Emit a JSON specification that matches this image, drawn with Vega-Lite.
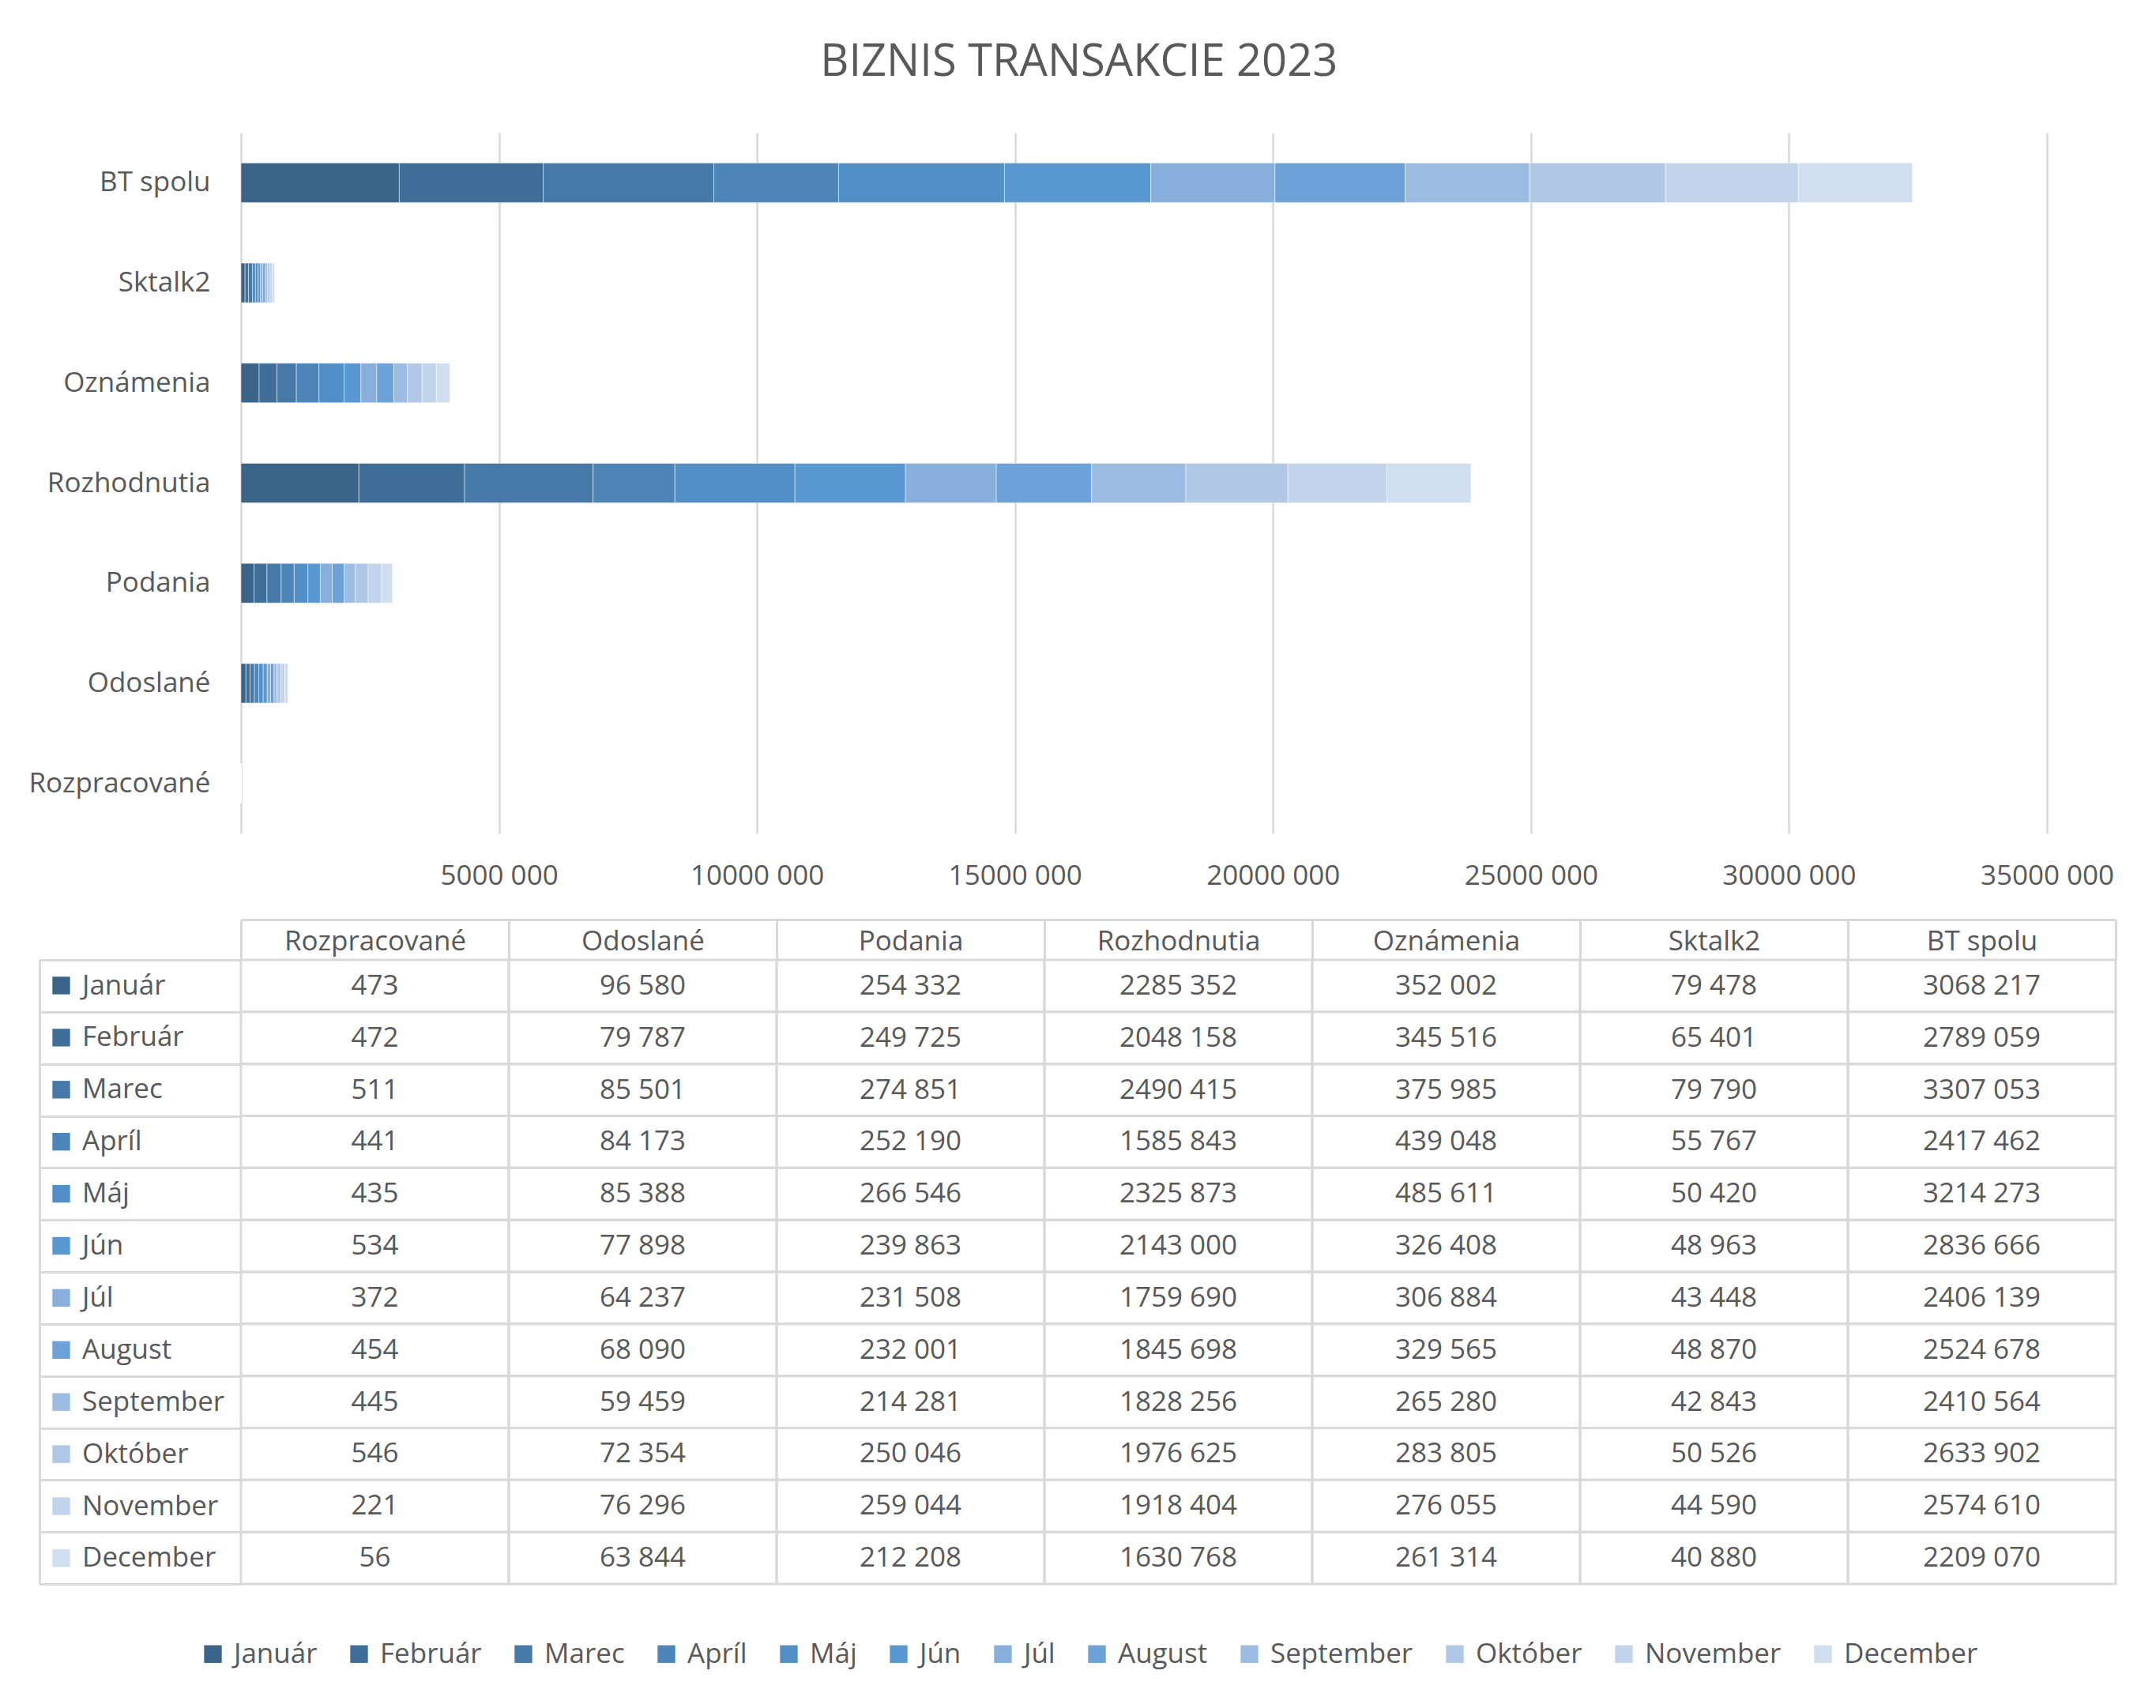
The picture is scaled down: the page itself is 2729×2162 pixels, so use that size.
{
  "$schema": "https://vega.github.io/schema/vega-lite/v6.json",
  "background": "#FFFFFF",
  "padding": {"left": 35, "top": 51, "right": 40, "bottom": 40},
  "title": {"text": "BIZNIS TRANSAKCIE 2023", "fontSize": 56, "fontWeight": "normal", "color": "#595959", "font": "Open Sans", "anchor": "middle", "offset": 60, "dx": 8},
  "datasets": {
    "bt": [
      {"mes": "Január", "m": 1, "kat": "Rozpracované", "v": 473},
      {"mes": "Január", "m": 1, "kat": "Odoslané", "v": 96580},
      {"mes": "Január", "m": 1, "kat": "Podania", "v": 254332},
      {"mes": "Január", "m": 1, "kat": "Rozhodnutia", "v": 2285352},
      {"mes": "Január", "m": 1, "kat": "Oznámenia", "v": 352002},
      {"mes": "Január", "m": 1, "kat": "Sktalk2", "v": 79478},
      {"mes": "Január", "m": 1, "kat": "BT spolu", "v": 3068217},
      {"mes": "Február", "m": 2, "kat": "Rozpracované", "v": 472},
      {"mes": "Február", "m": 2, "kat": "Odoslané", "v": 79787},
      {"mes": "Február", "m": 2, "kat": "Podania", "v": 249725},
      {"mes": "Február", "m": 2, "kat": "Rozhodnutia", "v": 2048158},
      {"mes": "Február", "m": 2, "kat": "Oznámenia", "v": 345516},
      {"mes": "Február", "m": 2, "kat": "Sktalk2", "v": 65401},
      {"mes": "Február", "m": 2, "kat": "BT spolu", "v": 2789059},
      {"mes": "Marec", "m": 3, "kat": "Rozpracované", "v": 511},
      {"mes": "Marec", "m": 3, "kat": "Odoslané", "v": 85501},
      {"mes": "Marec", "m": 3, "kat": "Podania", "v": 274851},
      {"mes": "Marec", "m": 3, "kat": "Rozhodnutia", "v": 2490415},
      {"mes": "Marec", "m": 3, "kat": "Oznámenia", "v": 375985},
      {"mes": "Marec", "m": 3, "kat": "Sktalk2", "v": 79790},
      {"mes": "Marec", "m": 3, "kat": "BT spolu", "v": 3307053},
      {"mes": "Apríl", "m": 4, "kat": "Rozpracované", "v": 441},
      {"mes": "Apríl", "m": 4, "kat": "Odoslané", "v": 84173},
      {"mes": "Apríl", "m": 4, "kat": "Podania", "v": 252190},
      {"mes": "Apríl", "m": 4, "kat": "Rozhodnutia", "v": 1585843},
      {"mes": "Apríl", "m": 4, "kat": "Oznámenia", "v": 439048},
      {"mes": "Apríl", "m": 4, "kat": "Sktalk2", "v": 55767},
      {"mes": "Apríl", "m": 4, "kat": "BT spolu", "v": 2417462},
      {"mes": "Máj", "m": 5, "kat": "Rozpracované", "v": 435},
      {"mes": "Máj", "m": 5, "kat": "Odoslané", "v": 85388},
      {"mes": "Máj", "m": 5, "kat": "Podania", "v": 266546},
      {"mes": "Máj", "m": 5, "kat": "Rozhodnutia", "v": 2325873},
      {"mes": "Máj", "m": 5, "kat": "Oznámenia", "v": 485611},
      {"mes": "Máj", "m": 5, "kat": "Sktalk2", "v": 50420},
      {"mes": "Máj", "m": 5, "kat": "BT spolu", "v": 3214273},
      {"mes": "Jún", "m": 6, "kat": "Rozpracované", "v": 534},
      {"mes": "Jún", "m": 6, "kat": "Odoslané", "v": 77898},
      {"mes": "Jún", "m": 6, "kat": "Podania", "v": 239863},
      {"mes": "Jún", "m": 6, "kat": "Rozhodnutia", "v": 2143000},
      {"mes": "Jún", "m": 6, "kat": "Oznámenia", "v": 326408},
      {"mes": "Jún", "m": 6, "kat": "Sktalk2", "v": 48963},
      {"mes": "Jún", "m": 6, "kat": "BT spolu", "v": 2836666},
      {"mes": "Júl", "m": 7, "kat": "Rozpracované", "v": 372},
      {"mes": "Júl", "m": 7, "kat": "Odoslané", "v": 64237},
      {"mes": "Júl", "m": 7, "kat": "Podania", "v": 231508},
      {"mes": "Júl", "m": 7, "kat": "Rozhodnutia", "v": 1759690},
      {"mes": "Júl", "m": 7, "kat": "Oznámenia", "v": 306884},
      {"mes": "Júl", "m": 7, "kat": "Sktalk2", "v": 43448},
      {"mes": "Júl", "m": 7, "kat": "BT spolu", "v": 2406139},
      {"mes": "August", "m": 8, "kat": "Rozpracované", "v": 454},
      {"mes": "August", "m": 8, "kat": "Odoslané", "v": 68090},
      {"mes": "August", "m": 8, "kat": "Podania", "v": 232001},
      {"mes": "August", "m": 8, "kat": "Rozhodnutia", "v": 1845698},
      {"mes": "August", "m": 8, "kat": "Oznámenia", "v": 329565},
      {"mes": "August", "m": 8, "kat": "Sktalk2", "v": 48870},
      {"mes": "August", "m": 8, "kat": "BT spolu", "v": 2524678},
      {"mes": "September", "m": 9, "kat": "Rozpracované", "v": 445},
      {"mes": "September", "m": 9, "kat": "Odoslané", "v": 59459},
      {"mes": "September", "m": 9, "kat": "Podania", "v": 214281},
      {"mes": "September", "m": 9, "kat": "Rozhodnutia", "v": 1828256},
      {"mes": "September", "m": 9, "kat": "Oznámenia", "v": 265280},
      {"mes": "September", "m": 9, "kat": "Sktalk2", "v": 42843},
      {"mes": "September", "m": 9, "kat": "BT spolu", "v": 2410564},
      {"mes": "Október", "m": 10, "kat": "Rozpracované", "v": 546},
      {"mes": "Október", "m": 10, "kat": "Odoslané", "v": 72354},
      {"mes": "Október", "m": 10, "kat": "Podania", "v": 250046},
      {"mes": "Október", "m": 10, "kat": "Rozhodnutia", "v": 1976625},
      {"mes": "Október", "m": 10, "kat": "Oznámenia", "v": 283805},
      {"mes": "Október", "m": 10, "kat": "Sktalk2", "v": 50526},
      {"mes": "Október", "m": 10, "kat": "BT spolu", "v": 2633902},
      {"mes": "November", "m": 11, "kat": "Rozpracované", "v": 221},
      {"mes": "November", "m": 11, "kat": "Odoslané", "v": 76296},
      {"mes": "November", "m": 11, "kat": "Podania", "v": 259044},
      {"mes": "November", "m": 11, "kat": "Rozhodnutia", "v": 1918404},
      {"mes": "November", "m": 11, "kat": "Oznámenia", "v": 276055},
      {"mes": "November", "m": 11, "kat": "Sktalk2", "v": 44590},
      {"mes": "November", "m": 11, "kat": "BT spolu", "v": 2574610},
      {"mes": "December", "m": 12, "kat": "Rozpracované", "v": 56},
      {"mes": "December", "m": 12, "kat": "Odoslané", "v": 63844},
      {"mes": "December", "m": 12, "kat": "Podania", "v": 212208},
      {"mes": "December", "m": 12, "kat": "Rozhodnutia", "v": 1630768},
      {"mes": "December", "m": 12, "kat": "Oznámenia", "v": 261314},
      {"mes": "December", "m": 12, "kat": "Sktalk2", "v": 40880},
      {"mes": "December", "m": 12, "kat": "BT spolu", "v": 2209070}
    ]
  },
  "bounds": "flush",
  "spacing": 160,
  "resolve": {
    "scale": {"x": "independent", "y": "independent", "color": "independent", "fill": "independent"},
    "axis": {"x": "independent", "y": "independent"},
    "legend": {"color": "independent", "fill": "independent"}
  },
  "vconcat": [
    {
      "width": 2286,
      "height": 887,
      "data": {"name": "bt"},
      "mark": {"type": "bar", "stroke": "#FFFFFF", "strokeWidth": 1, "strokeOpacity": 0.5},
      "encoding": {
        "y": {
          "field": "kat", "type": "nominal",
          "sort": ["BT spolu", "Sktalk2", "Oznámenia", "Rozhodnutia", "Podania", "Odoslané", "Rozpracované"],
          "scale": {"paddingInner": 0.605, "paddingOuter": 0.3025},
          "axis": {"title": null, "domain": true, "domainColor": "#D9D9D9", "domainWidth": 2.5, "ticks": false, "grid": false, "labelPadding": 39, "labelFontSize": 35, "labelColor": "#595959", "labelFont": "Open Sans", "labelLimit": 0}
        },
        "x": {
          "field": "v", "type": "quantitative", "stack": "zero",
          "scale": {"domain": [0, 35000000], "nice": false},
          "axis": {
            "title": null,
            "values": [5000000, 10000000, 15000000, 20000000, 25000000, 30000000, 35000000],
            "format": ",d",
            "grid": true, "gridColor": "#D9D9D9", "gridWidth": 2.5,
            "domain": false, "ticks": false,
            "labelPadding": 36, "labelFlush": false, "labelOverlap": false,
            "labelFontSize": 35, "labelColor": "#595959", "labelFont": "Open Sans"
          }
        },
        "color": {
          "field": "mes", "type": "nominal",
          "scale": {
            "domain": ["Január", "Február", "Marec", "Apríl", "Máj", "Jún", "Júl", "August", "September", "Október", "November", "December"],
            "range": ["#3B6489", "#3F6F98", "#4679A8", "#4E85B8", "#528FC6", "#5A98D2", "#88AEDB", "#6CA2D8", "#9DBCE2", "#B0C7E5", "#C2D4EB", "#D1DEEF"]
          },
          "legend": {
            "orient": "none", "direction": "horizontal", "legendX": -53, "legendY": 1908,
            "title": null, "symbolType": "square", "symbolSize": 500, "symbolStrokeWidth": 0, "symbolOpacity": 1,
            "labelFontSize": 35, "labelColor": "#595959", "labelFont": "Open Sans", "labelOffset": 9,
            "columnPadding": 35, "padding": 0, "labelLimit": 0
          }
        },
        "order": {"field": "m", "type": "quantitative", "sort": "ascending"}
      }
    },
    {
      "width": 2373,
      "height": 790,
      "data": {"name": "bt"},
      "encoding": {
        "x": {
          "field": "kat", "type": "nominal",
          "sort": ["Rozpracované", "Odoslané", "Podania", "Rozhodnutia", "Oznámenia", "Sktalk2", "BT spolu"],
          "scale": {"paddingInner": 0, "paddingOuter": 0},
          "axis": {
            "orient": "top", "title": null, "offset": 51, "tickBand": "extent", "tickSize": -51,
            "tickColor": "#D9D9D9", "tickWidth": 3, "domainColor": "#D9D9D9", "domainWidth": 3,
            "labelPadding": 6, "labelAngle": 0, "labelFontSize": 35, "labelColor": "#595959", "labelFont": "Open Sans", "labelLimit": 0
          }
        },
        "y": {
          "field": "mes", "type": "nominal",
          "sort": ["Január", "Február", "Marec", "Apríl", "Máj", "Jún", "Júl", "August", "September", "Október", "November", "December"],
          "scale": {"paddingInner": 0, "paddingOuter": 0},
          "axis": {
            "title": null, "offset": 255, "tickBand": "extent", "tickSize": -255,
            "tickColor": "#D9D9D9", "tickWidth": 3, "domainColor": "#D9D9D9", "domainWidth": 3, "labels": false
          }
        }
      },
      "layer": [
        {
          "mark": {"type": "rect", "fillOpacity": 0, "stroke": "#D9D9D9", "strokeWidth": 3},
          "encoding": {
            "fill": {
              "field": "mes", "type": "nominal",
              "scale": {
                "domain": ["Január", "Február", "Marec", "Apríl", "Máj", "Jún", "Júl", "August", "September", "Október", "November", "December"],
                "range": ["#3B6489", "#3F6F98", "#4679A8", "#4E85B8", "#528FC6", "#5A98D2", "#88AEDB", "#6CA2D8", "#9DBCE2", "#B0C7E5", "#C2D4EB", "#D1DEEF"]
              },
              "legend": {
                "orient": "none", "direction": "vertical", "legendX": -245, "legendY": 15,
                "title": null, "symbolType": "square", "symbolSize": 500, "symbolStrokeWidth": 0, "symbolOpacity": 1,
                "labelFontSize": 35, "labelColor": "#595959", "labelFont": "Open Sans", "labelOffset": 9,
                "rowPadding": 29.9, "padding": 0, "labelLimit": 0
              }
            }
          }
        },
        {
          "mark": {"type": "text", "fontSize": 35, "color": "#595959", "baseline": "middle", "font": "Open Sans"},
          "encoding": {
            "text": {"field": "v", "type": "quantitative", "format": ","}
          }
        }
      ]
    }
  ],
  "config": {
    "font": "Open Sans",
    "view": {"stroke": null},
    "locale": {"number": {"decimal": ",", "thousands": " ", "grouping": [3, 6], "currency": ["", ""]}}
  }
}
